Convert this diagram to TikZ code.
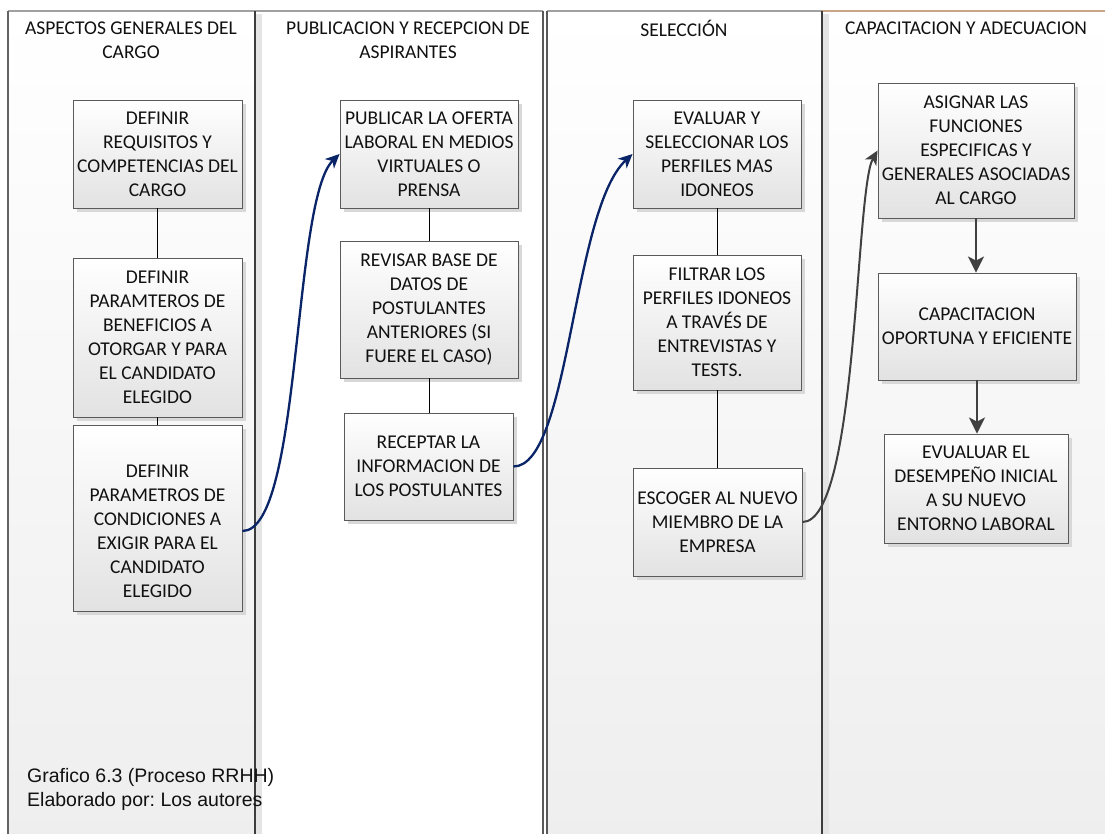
\documentclass[tikz,border=0pt]{standalone}
\usepackage{fontspec}
\setmainfont{Carlito}
\newfontfamily\footfont{Liberation Sans}
\usetikzlibrary{arrows.meta,shadows}
\frenchspacing

\definecolor{navy}{HTML}{0A2468}
\definecolor{arrowgrey}{HTML}{404040}
\definecolor{boxedge}{HTML}{5A5A5A}
\definecolor{boxbottom}{HTML}{E2E2E2}
\definecolor{lanebottom}{HTML}{EEEEEE}
\definecolor{laneedge}{HTML}{3C3C3C}
\definecolor{lanetop}{HTML}{A0A0A0}
\definecolor{lanetopbrown}{HTML}{C9A587}
\definecolor{laneshade}{HTML}{E4E4E4}
\definecolor{boxshadow}{HTML}{D8D8D8}
\definecolor{inktext}{HTML}{111111}

\newcommand\boxfont{\fontsize{19.5}{24}\selectfont}

\begin{document}
\begin{tikzpicture}[x=1pt,y=-1pt,
  stepbox/.style={draw=boxedge, line width=0.9pt, top color=white,
    bottom color=boxbottom, text=inktext,
    drop shadow={shadow xshift=4pt, shadow yshift=-4pt, fill=boxshadow, opacity=1},
    align=center, font=\boxfont, inner sep=2pt},
  boxtext/.style={align=center, font=\boxfont, text=inktext, inner sep=0pt},
  lanehead/.style={align=center, font=\boxfont, text=inktext, inner sep=0pt},
  link/.style={draw=black, line width=0.9pt},
  bluearrow/.style={draw=navy, line width=2.3pt,
    -{Stealth[length=14pt,width=13pt,inset=4pt]}},
  greyarrow/.style={draw=arrowgrey, line width=2.3pt,
    -{Stealth[length=16pt,width=16pt,inset=4pt]}},
  greycurve/.style={draw=arrowgrey, line width=2pt,
    -{Stealth[length=14pt,width=13pt,inset=4pt]}}]

\useasboundingbox (0,0) rectangle (1105,833);
\clip (0,0) rectangle (1105,833);
\fill[white] (0,0) rectangle (1105,833);

% swimlane backgrounds
\fill[top color=white, bottom color=lanebottom] (8,11) rectangle (255,845);
\fill[white] (255,11) rectangle (543,845);
\fill[top color=white, bottom color=lanebottom] (547,11) rectangle (822,845);
\fill[top color=white, bottom color=lanebottom] (822,11) rectangle (1110,845);

% light shading strips beside the lane dividers
\fill[laneshade] (256,14) rectangle (262,845);
\fill[laneshade] (823,14) rectangle (829,845);

% lane borders
\draw[lanetop, line width=1.5pt] (8,11) -- (543,11);
\draw[lanetop, line width=1.5pt] (547,11) -- (822,11);
\draw[lanetopbrown, line width=1.5pt] (822,11) -- (1110,11);
\draw[laneedge!80, line width=1.2pt] (8,11) -- (8,845);
\draw[laneedge, line width=1.6pt] (255,11) -- (255,845);
\draw[gray!70!black, line width=1.2pt] (543,11) -- (543,845);
\draw[gray!70!black, line width=1.2pt] (547,11) -- (547,845);
\draw[laneedge, line width=1.6pt] (822,11) -- (822,845);

% lane headings
\node[lanehead] (h1) at (131,40) {ASPECTOS GENERALES DEL\\CARGO};
\node[lanehead] (h2) at (408,40) {PUBLICACION Y RECEPCION DE\\ASPIRANTES};
\node[lanehead] (h3) at (684,28) {SELECCIÓN};
\node[lanehead] (h4) at (966,28) {CAPACITACION Y ADECUACION};

% lane 1: general aspects of the position
\node[stepbox, minimum width=169pt, minimum height=108pt] (B1) at (157.5,154)
  {DEFINIR\\REQUISITOS Y\\COMPETENCIAS DEL\\CARGO};
\node[stepbox, minimum width=169pt, minimum height=159pt] (B2) at (157.5,337.5)
  {DEFINIR\\PARAMTEROS DE\\BENEFICIOS A\\OTORGAR Y PARA\\EL CANDIDATO\\ELEGIDO};
\node[stepbox, minimum width=169pt, minimum height=186pt] (B3) at (157.5,518) {};
\node[boxtext] (B3t) at (157.5,531)
  {DEFINIR\\PARAMETROS DE\\CONDICIONES A\\EXIGIR PARA EL\\CANDIDATO\\ELEGIDO};

% lane 2: publication and reception
\node[stepbox, minimum width=178pt, minimum height=108pt] (P1) at (429,154)
  {PUBLICAR LA OFERTA\\LABORAL EN MEDIOS\\VIRTUALES O\\PRENSA};
\node[stepbox, minimum width=178pt, minimum height=137pt] (P2) at (429,309.5)
  {REVISAR BASE DE\\DATOS DE\\POSTULANTES\\ANTERIORES (SI\\FUERE EL CASO)};
\node[stepbox, minimum width=169pt, minimum height=107pt] (P3) at (428.5,466.5)
  {RECEPTAR LA\\INFORMACION DE\\LOS POSTULANTES};

% lane 3: selection
\node[stepbox, minimum width=168pt, minimum height=108pt] (S1) at (717,154)
  {EVALUAR Y\\SELECCIONAR LOS\\PERFILES MAS\\IDONEOS};
\node[stepbox, minimum width=168pt, minimum height=135pt] (S2) at (717,322.5)
  {FILTRAR LOS\\PERFILES IDONEOS\\A TRAVÉS DE\\ENTREVISTAS Y\\TESTS.};
\node[stepbox, minimum width=169pt, minimum height=108pt] (S3) at (717.5,522)
  {ESCOGER AL NUEVO\\MIEMBRO DE LA\\EMPRESA};

% lane 4: training and adaptation
\node[stepbox, minimum width=196pt, minimum height=135pt] (C1) at (976,150.5)
  {ASIGNAR LAS\\FUNCIONES\\ESPECIFICAS Y\\GENERALES ASOCIADAS\\AL CARGO};
\node[stepbox, minimum width=198pt, minimum height=107pt] (C2) at (977,326.5)
  {CAPACITACION\\OPORTUNA Y EFICIENTE};
\node[stepbox, minimum width=184pt, minimum height=109pt] (C3) at (976,488.5)
  {EVUALUAR EL\\DESEMPEÑO INICIAL\\A SU NUEVO\\ENTORNO LABORAL};

% plain links inside the lanes
\draw[link] (B1.south) -- (B2.north);
\draw[link] (B2.south) -- (B3.north);
\draw[link] (P1.south) -- (P2.north);
\draw[link] (P2.south) -- (P2.south |- P3.north);
\draw[link] (S1.south) -- (S2.north);
\draw[link] (S2.south) -- (S2.south |- S3.north);

% arrows inside the last lane
\draw[greyarrow] (C1.south) -- (C1.south |- C2.north);
\draw[greyarrow] (C2.south) -- (C2.south |- C3.north);

% curved arrows between lanes
\draw[bluearrow] (B3.east |- B3t.center) .. controls (302,531) and (292,200) .. (P1.west);
\draw[bluearrow] (P3.east) .. controls (570,466.5) and (572,210) .. (S1.west);
\draw[greycurve] (S3.east) .. controls (858,522) and (855,190) .. (C1.west);

% source note
\node[anchor=west, align=left, inner sep=0pt, text=inktext,
  font=\footfont\fontsize{19.5}{24}\selectfont] (note) at (27,789)
  {Grafico 6.3 (Proceso RRHH)\\Elaborado por: Los autores};
\end{tikzpicture}
\end{document}
